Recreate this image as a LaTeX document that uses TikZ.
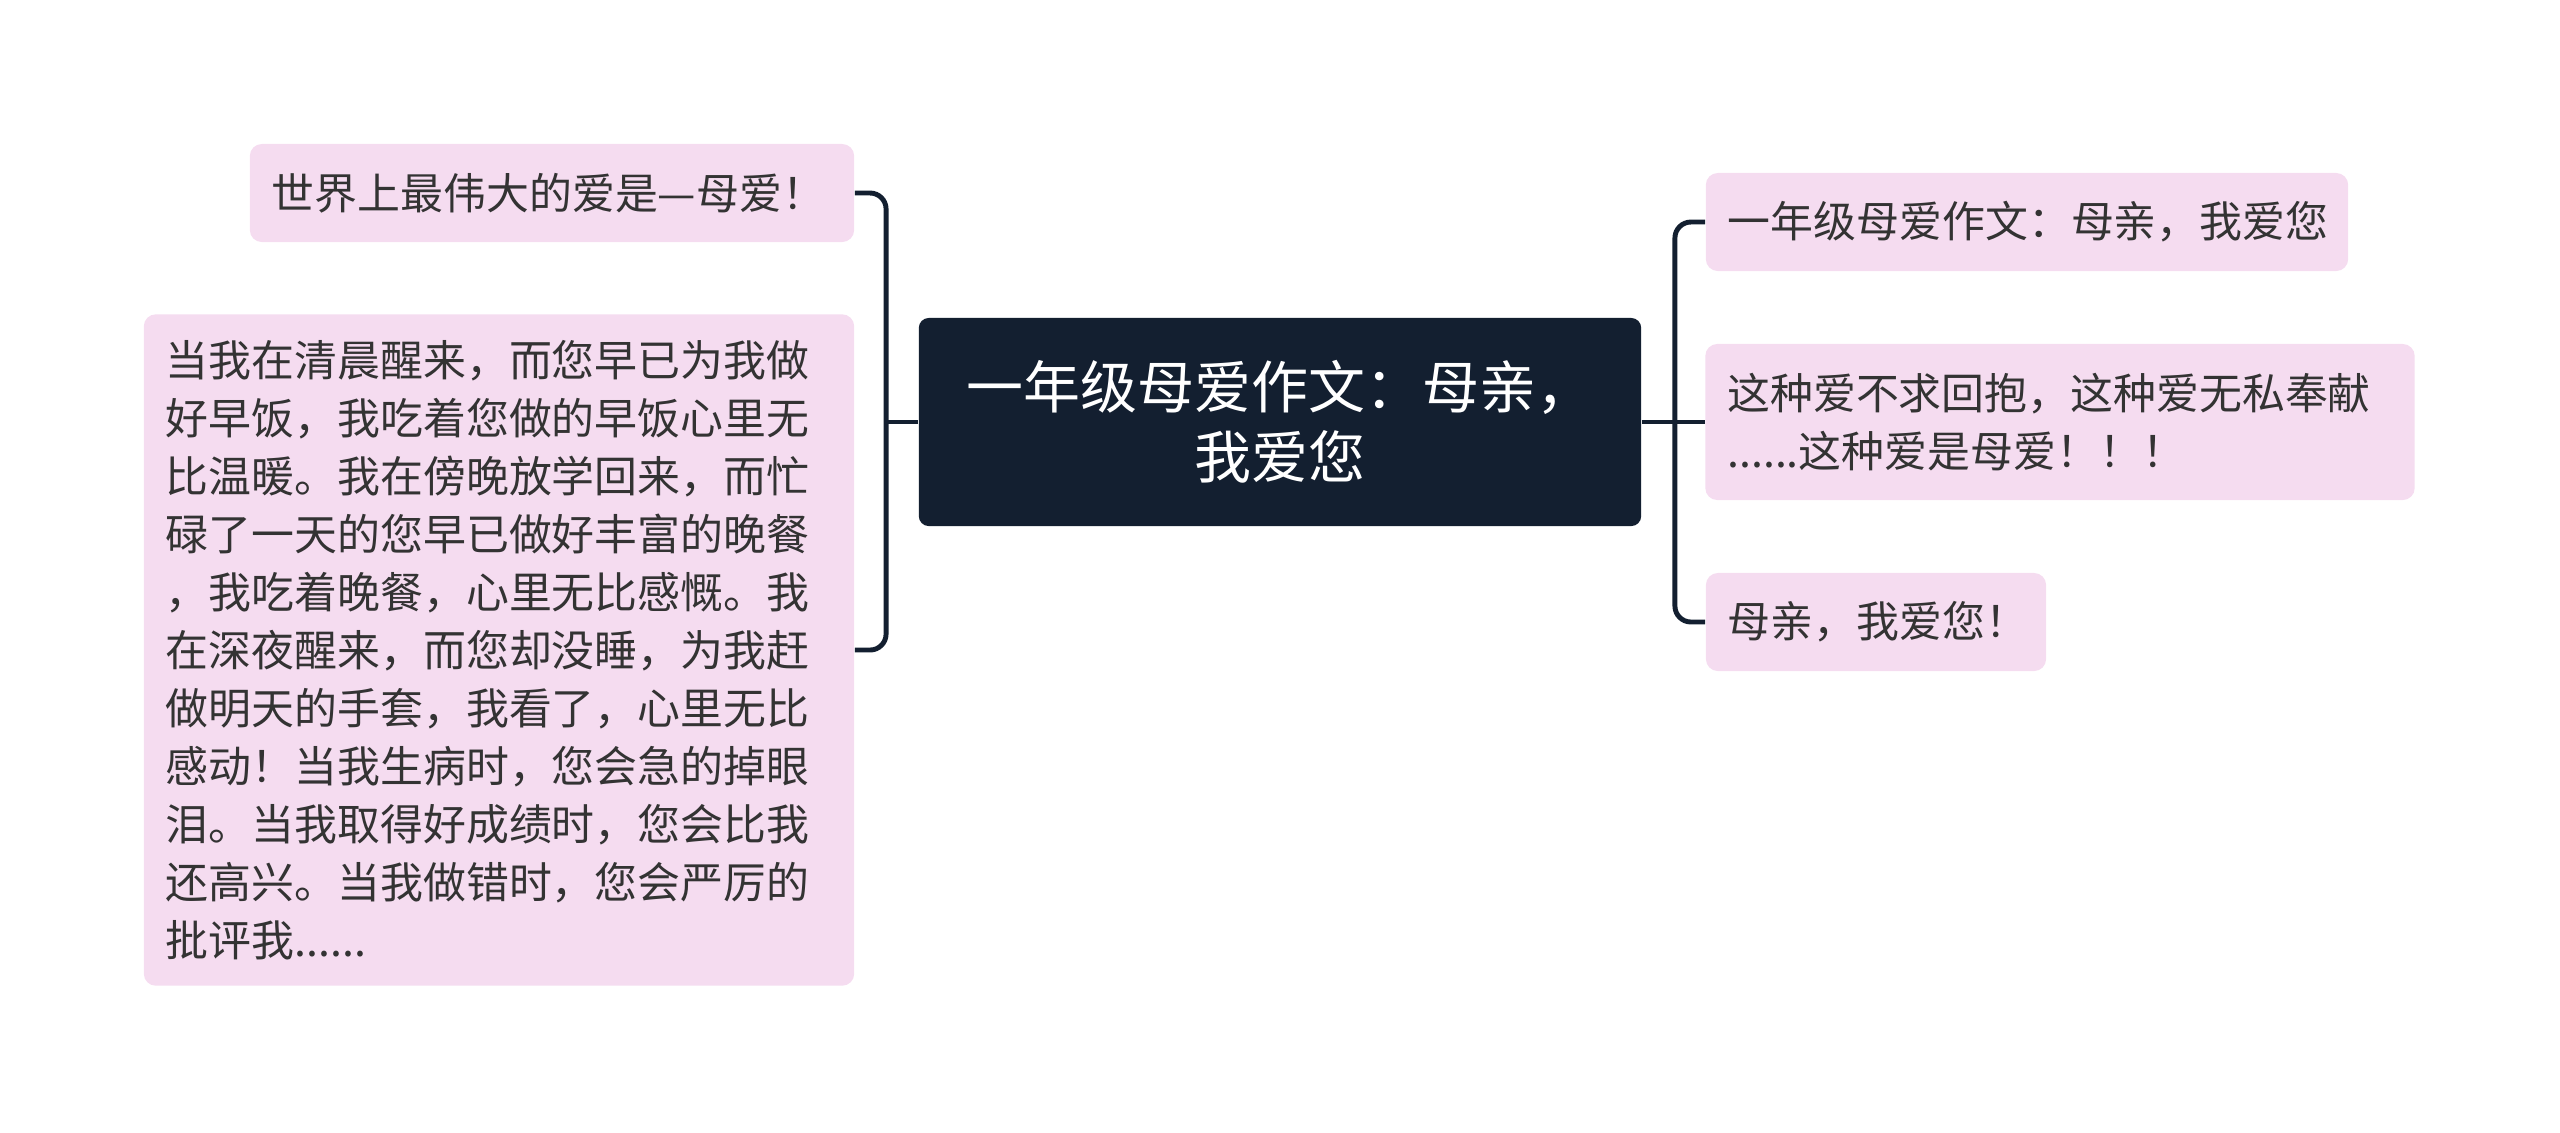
\documentclass[tikz,border=0pt]{standalone}
\usepackage{fontspec}
\setmainfont{Noto Sans CJK SC}
\definecolor{rootbg}{HTML}{131F30}
\definecolor{leafbg}{HTML}{F5DCF0}
\definecolor{leaftext}{HTML}{333333}
\begin{document}
\begin{tikzpicture}[x=0.01cm,y=-0.01cm,
  rootbox/.style={rectangle,rounded corners=0.1cm,fill=rootbg,text=white,
    minimum width=7.22cm,minimum height=2.08cm,align=center,
    font=\fontsize{16.2pt}{19.9pt}\selectfont},
  leafbox/.style={rectangle,rounded corners=0.12cm,fill=leafbg,text=leaftext,
    inner xsep=0.22cm,align=left,font=\fontsize{12.2pt}{16.5pt}\selectfont},
  link/.style={draw=rootbg,line width=1.4pt,rounded corners=0.16cm}]
\useasboundingbox (0,0) rectangle (2560,1132);

\node[rootbox] (root) at (1280,422) {一年级母爱作文：母亲，\\我爱您};

\node[leafbox,text width=5.6cm,minimum height=0.98cm] (love) at (552,193) {世界上最伟大的爱是—母爱！};
\node[leafbox,text width=6.66cm,minimum height=6.71cm] (story) at (499,650)
  {当我在清晨醒来，而您早已为我做\\好早饭，我吃着您做的早饭心里无\\比温暖。我在傍晚放学回来，而忙\\碌了一天的您早已做好丰富的晚餐\\，我吃着晚餐，心里无比感慨。我\\在深夜醒来，而您却没睡，为我赶\\做明天的手套，我看了，心里无比\\感动！当我生病时，您会急的掉眼\\泪。当我取得好成绩时，您会比我\\还高兴。当我做错时，您会严厉的\\批评我......};

\node[leafbox,text width=5.98cm,minimum height=0.98cm] (title) at (2027,222) {一年级母爱作文：母亲，我爱您};
\node[leafbox,text width=6.65cm,minimum height=1.56cm] (selfless) at (2060,422) {这种爱不求回抱，这种爱无私奉献\\......这种爱是母爱！！！};
\node[leafbox,text width=2.96cm,minimum height=0.98cm] (iloveyou) at (1876,622) {母亲，我爱您！};

% left side
\draw[link] (root.west) -- ++(-32,0) coordinate (jl);
\draw[link] (love.east) -| (jl) |- (story.east);

% right side
\draw[link] (root.east) -- ++(33,0) coordinate (jr);
\draw[link] (title.west) -| (jr) |- (iloveyou.west);
\draw[link] (jr) -- (selfless.west);
\end{tikzpicture}
\end{document}
